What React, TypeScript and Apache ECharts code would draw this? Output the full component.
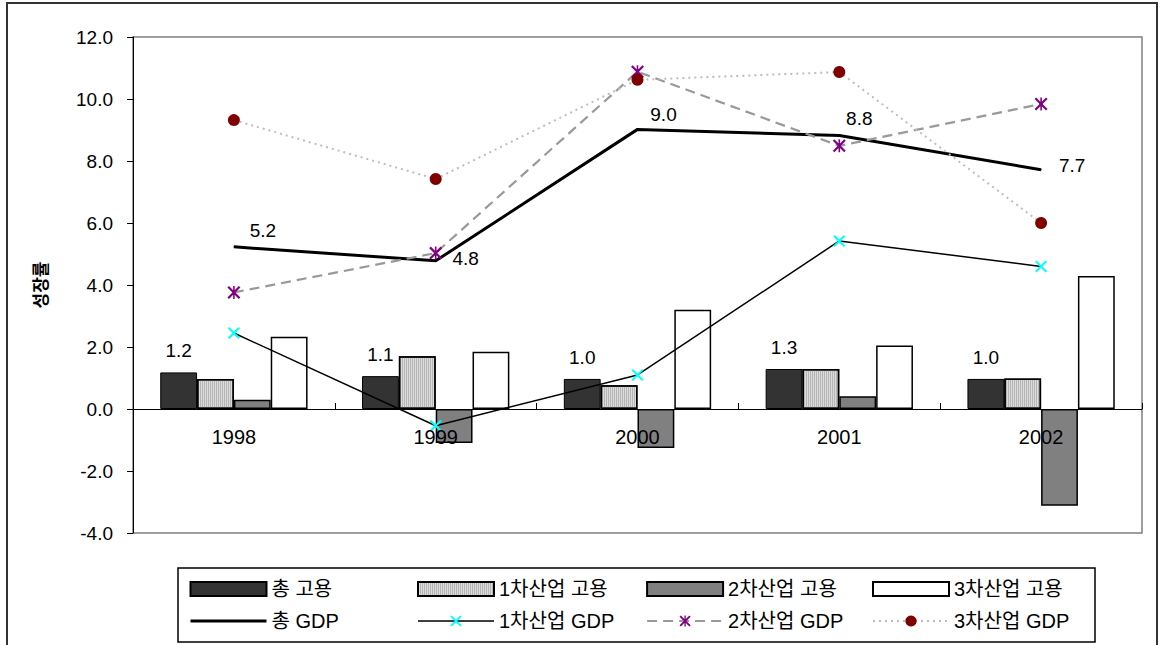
import React, { useEffect, useRef } from "react";
import * as echarts from "echarts";

const years = ["1998", "1999", "2000", "2001", "2002"];
const totalEmp = [1.18, 1.06, 0.97, 1.29, 0.97];
const primaryEmp = [0.97, 1.7, 0.77, 1.29, 0.98];
const secondaryEmp = [0.3, -1.1, -1.26, 0.41, -3.12];
const tertiaryEmp = [2.33, 1.85, 3.2, 2.05, 4.29];
const totalGdp = [5.23, 4.78, 9.02, 8.82, 7.72];
const primaryGdp = [2.45, -0.54, 1.1, 5.42, 4.6];
const secondaryGdp = [3.76, 5.03, 10.88, 8.49, 9.84];
const tertiaryGdp = [9.32, 7.42, 10.62, 10.87, 6.0];
const yTicks = { min: -4, max: 12, interval: 2 };
const totalGdpLabelOffsets: [number, number][] = [
  [29, -1],
  [30, 13],
  [26, 0],
  [20, -2],
  [31, 11],
];

const FONT = "'Liberation Sans', Arial, 'Noto Sans CJK KR', sans-serif";
const FS_TICK = 19;
const FS_CAT = 20;
const FS_LEG = 20;
const FS_LBL = 19;
const xPath = "path://M0,1.2L1.2,0L10,8.8L8.8,10Z M8.8,0L10,1.2L1.2,10L0,8.8Z";
const starPath =
  "path://M0,1.2L1.2,0L10,8.8L8.8,10Z M8.8,0L10,1.2L1.2,10L0,8.8Z M4.4,0L5.6,0L5.6,10L4.4,10Z";

const GRID_TOP = 37;
const GRID_HEIGHT = 496;

export default function App() {
  const ref = useRef<HTMLDivElement>(null);
  useEffect(() => {
    if (!ref.current) return;
    const chart = echarts.init(ref.current, undefined, { renderer: "svg" });
    const barBase = {
      type: "bar",
      barGap: "0%",
      barCategoryGap: "27%",
    };
    const legendText = { fontSize: FS_LEG, color: "#000", fontFamily: FONT };
    const legendCommon = {
      orient: "vertical",
      top: 579,
      padding: 0,
      itemGap: 12,
      itemWidth: 76,
      itemHeight: 14,
      selectedMode: false,
      textStyle: legendText,
    };
    const zeroOffset =
      (GRID_HEIGHT * (0 - yTicks.min)) / (yTicks.max - yTicks.min);
    const valueLabel = {
      fontSize: FS_LBL,
      color: "#000",
      fontFamily: FONT,
      formatter: (p: any) => Number(p.value).toFixed(1),
    };
    chart.setOption({
      animation: false,
      backgroundColor: "#fff",
      textStyle: { fontFamily: FONT },
      grid: {
        left: 133,
        top: GRID_TOP,
        right: 18,
        height: GRID_HEIGHT,
        containLabel: false,
        show: true,
        borderColor: "#808080",
        borderWidth: 1.5,
        backgroundColor: "transparent",
      },
      xAxis: {
        type: "category",
        data: years,
        boundaryGap: true,
        offset: -zeroOffset,
        z: 10,
        axisLine: { onZero: false, lineStyle: { color: "#000", width: 1 } },
        axisTick: { show: true, inside: true, length: 6, interval: 0, lineStyle: { color: "#000" } },
        axisLabel: { fontSize: FS_CAT, color: "#000", margin: 18, fontFamily: FONT },
        splitLine: { show: false },
      },
      yAxis: {
        type: "value",
        min: yTicks.min,
        max: yTicks.max,
        interval: yTicks.interval,
        name: "성장률",
        nameLocation: "middle",
        nameRotate: 90,
        nameGap: 83,
        nameTextStyle: { fontSize: 17, fontWeight: "bold", color: "#000", fontFamily: FONT },
        axisLine: { show: true, lineStyle: { color: "#000", width: 1 } },
        axisTick: { show: true, length: 6, lineStyle: { color: "#000" } },
        axisLabel: {
          fontSize: FS_TICK,
          color: "#000",
          margin: 20,
          fontFamily: FONT,
          formatter: (v: number) => v.toFixed(1),
        },
        splitLine: { show: false },
      },
      legend: [
        {
          ...legendCommon,
          left: 189,
          data: [
            { name: "총 고용", icon: "rect" },
            { name: "총 GDP", itemStyle: { opacity: 0 }, lineStyle: { width: 3, color: "#000" } },
          ],
        },
        {
          ...legendCommon,
          left: 417,
          data: [
            { name: "1차산업 고용", icon: "rect" },
            { name: "1차산업 GDP", lineStyle: { width: 1.5, color: "#000" } },
          ],
        },
        {
          ...legendCommon,
          left: 646,
          data: [
            { name: "2차산업 고용", icon: "rect" },
            { name: "2차산업 GDP", lineStyle: { width: 2.2, color: "#999999", type: [10, 6] } },
          ],
        },
        {
          ...legendCommon,
          left: 872,
          data: [
            { name: "3차산업 고용", icon: "rect" },
            { name: "3차산업 GDP", lineStyle: { width: 2, color: "#bdbdbd", type: [2, 4] } },
          ],
        },
      ],
      graphic: [
        {
          type: "rect",
          shape: { x: 7, y: 3, width: 1150, height: 680 },
          style: { fill: "none", stroke: "#333", lineWidth: 2 },
          silent: true,
        },
        {
          type: "rect",
          shape: { x: 178, y: 568, width: 917, height: 74 },
          style: { fill: "none", stroke: "#000", lineWidth: 1.5 },
          silent: true,
        },
      ],
      series: [
        {
          ...barBase,
          name: "총 고용",
          data: totalEmp,
          itemStyle: { color: "#333333", borderColor: "#000", borderWidth: 1 },
          label: { show: true, position: "top", distance: 12, ...valueLabel },
        },
        {
          ...barBase,
          name: "1차산업 고용",
          data: primaryEmp,
          itemStyle: {
            color: "#dcdcdc",
            borderColor: "#000",
            borderWidth: 1.5,
            decal: {
              symbol: "rect",
              symbolSize: 1,
              dashArrayX: [1, 1],
              dashArrayY: [4, 0],
              color: "rgba(150,150,150,0.55)",
              rotation: 0,
            },
          },
        },
        {
          ...barBase,
          name: "2차산업 고용",
          data: secondaryEmp,
          itemStyle: { color: "#808080", borderColor: "#000", borderWidth: 1.5 },
        },
        {
          ...barBase,
          name: "3차산업 고용",
          data: tertiaryEmp,
          itemStyle: { color: "#ffffff", borderColor: "#000", borderWidth: 1.5 },
        },
        {
          type: "line",
          name: "총 GDP",
          data: totalGdp.map((v, i) => ({
            value: v,
            label: {
              show: true,
              position: "top",
              offset: totalGdpLabelOffsets[i],
              ...valueLabel,
            },
          })),
          symbol: "circle",
          symbolSize: 1,
          itemStyle: { color: "#000" },
          lineStyle: { color: "#000", width: 3 },
          z: 5,
        },
        {
          type: "line",
          name: "1차산업 GDP",
          data: primaryGdp,
          symbol: xPath,
          symbolSize: 12,
          itemStyle: { color: "#00ffff" },
          lineStyle: { color: "#000", width: 1.5 },
          z: 6,
        },
        {
          type: "line",
          name: "2차산업 GDP",
          data: secondaryGdp,
          symbol: starPath,
          symbolSize: 13,
          itemStyle: { color: "#800080" },
          lineStyle: { color: "#999999", width: 2.2, type: [10, 6] },
          z: 6,
        },
        {
          type: "line",
          name: "3차산업 GDP",
          data: tertiaryGdp,
          symbol: "circle",
          symbolSize: 12,
          itemStyle: { color: "#800000" },
          lineStyle: { color: "#bdbdbd", width: 2, type: [2, 4] },
          z: 6,
        },
      ],
    });
    return () => chart.dispose();
  }, []);
  return (
    <div
      ref={ref}
      style={{ position: "fixed", left: 0, top: 0, width: 1160, height: 645, background: "#fff" }}
    />
  );
}
